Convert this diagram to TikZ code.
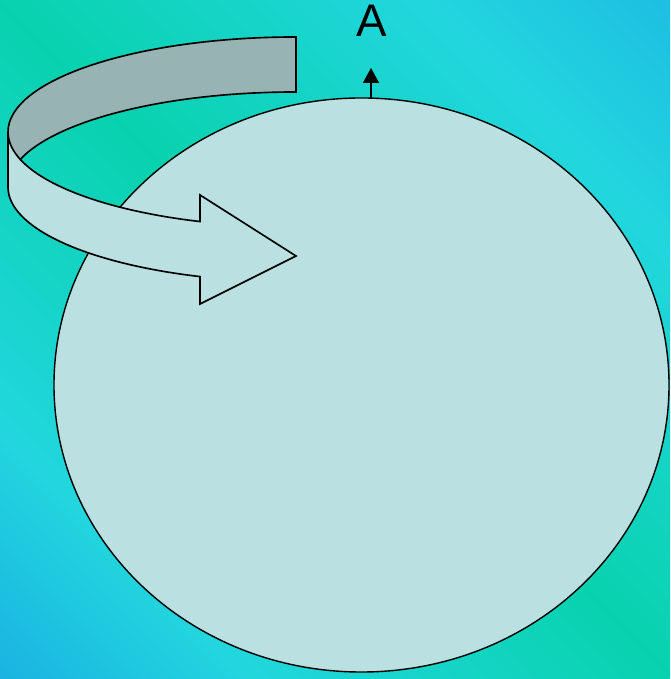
\documentclass[tikz,border=0pt]{standalone}
\usepackage{fontspec}
\setmainfont{Liberation Sans}
\usetikzlibrary{arrows.meta,shapes.geometric}
\definecolor{bggreen}{RGB}{8,210,174}
\definecolor{bgcyan}{RGB}{34,214,222}
\definecolor{bgblueA}{RGB}{26,178,226}
\definecolor{bgblueB}{RGB}{29,190,226}
\definecolor{shapefill}{RGB}{186,224,226}
\definecolor{backfill}{RGB}{151,179,179}
\begin{document}
\begin{tikzpicture}[x=0.03cm,y=0.03cm,
  bandline/.style={draw=black, line width=1.4pt, line join=miter},
  bigoval/.style={ellipse, draw=black, line width=1.2pt, fill=shapefill,
    inner sep=0pt, minimum width=18.45cm, minimum height=17.22cm},
  pointer/.style={draw=black, line width=1.3pt, -{Triangle[length=0.45cm,width=0.48cm]}},
  lbl/.style={font=\fontsize{39}{46}\selectfont, inner sep=0pt, anchor=base}]
\useasboundingbox (0,0) rectangle (670,679);
% background gradient
\begin{scope}
  \clip (0,0) rectangle (670,679);
  \begin{scope}[transform canvas={rotate around={45:(335,339.5)}}]
    \shade[left color=bgblueA, right color=bgcyan] (-145,-141) rectangle (36,820);
    \shade[left color=bgcyan, right color=bggreen] (35,-141) rectangle (336,820);
    \shade[left color=bggreen, right color=bgcyan] (335,-141) rectangle (636,820);
    \shade[left color=bgcyan, right color=bgblueB] (635,-141) rectangle (815,820);
  \end{scope}
\end{scope}
% big oval
\node[bigoval] (oval) at (361.5,294) {};
% back (inner) part of the curved band
\path[bandline, fill=backfill]
  (296,642) arc[start angle=90, end angle=180, x radius=288, y radius=95]
  -- (8,492) arc[start angle=180, end angle=90, x radius=288, y radius=95]
  -- cycle;
% front part with arrow head
\path[bandline, fill=shapefill]
  (8,547) arc[start angle=180, end angle=250.53, x radius=288, y radius=95]
  -- (200,484) -- (296,423) -- (200,375) -- (200,402.4)
  arc[start angle=250.53, end angle=180, x radius=288, y radius=95]
  -- cycle;
% axis arrow and label
\coordinate (atop) at (371,581);
\coordinate (atip) at (371,611);
\draw[pointer] (atop) -- (atip);
\node[lbl] (lblA) at (372,642) {A};
\end{tikzpicture}
\end{document}
